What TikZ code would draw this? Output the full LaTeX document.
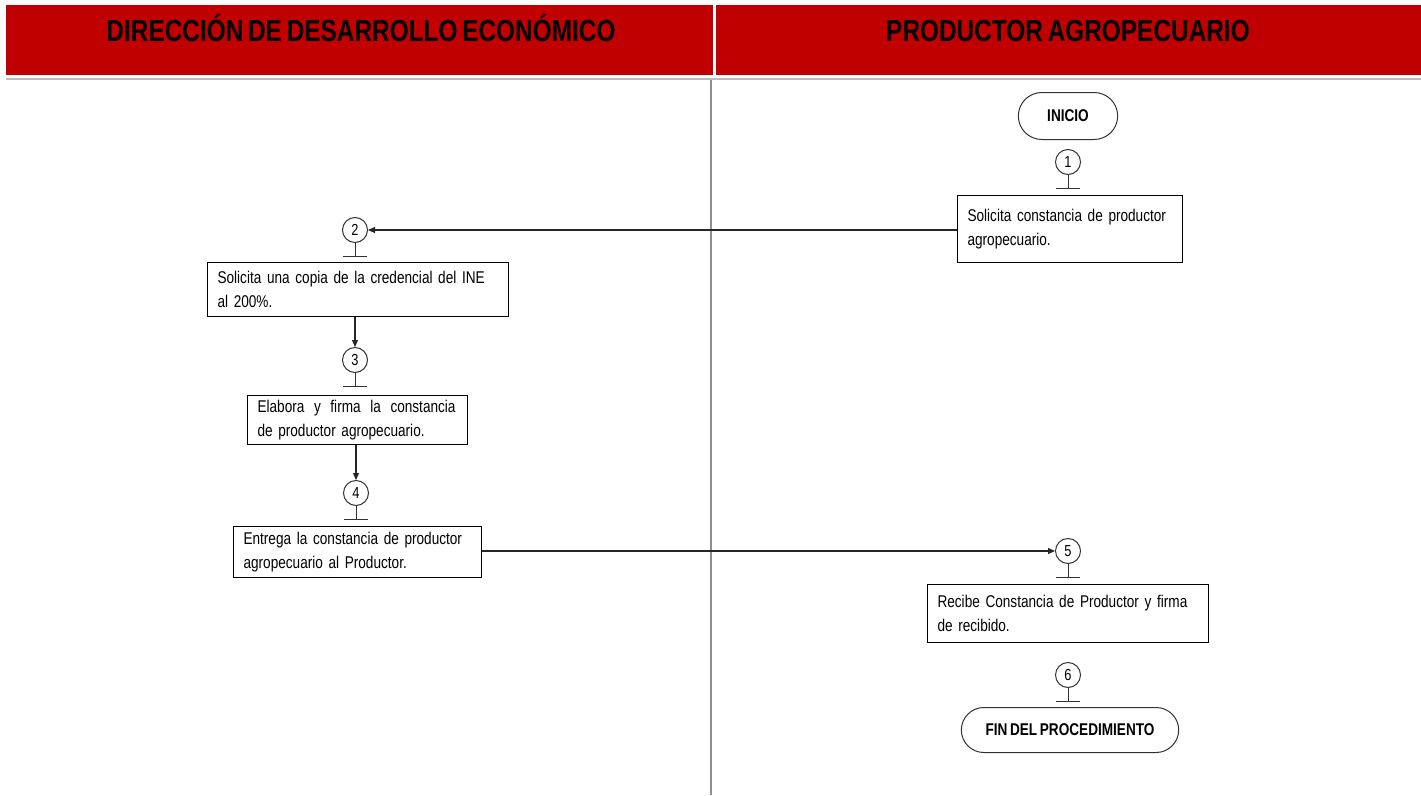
\documentclass[tikz,border=0pt]{standalone}
\usepackage{fontspec}
\setmainfont{Liberation Sans}
\newfontfamily\narrowfont[FakeStretch=0.8,WordSpace=0.7]{Liberation Sans}
\usetikzlibrary{arrows.meta,shapes.misc,calc}
\definecolor{headred}{HTML}{C00000}
\definecolor{rulegray}{HTML}{A0A0A0}
\begin{document}
\begin{tikzpicture}[x=1pt,y=-1pt,
  lanehead/.style={fill=headred,draw=none,minimum height=70pt,inner sep=0pt},
  lanetitle/.style={anchor=base,inner sep=0pt,
    font=\narrowfont\fontsize{30.5}{33}\selectfont\bfseries,text=black},
  stepbox/.style={draw=black,line width=1.1pt,align=left,inner xsep=10pt,inner ysep=0pt,
    font=\narrowfont\fontsize{17}{24}\selectfont,anchor=north west},
  terminal/.style={draw=black!80,line width=1pt,rounded rectangle,
    font=\narrowfont\fontsize{17}{20}\selectfont\bfseries},
  stepnum/.style={circle,draw=black!80,line width=1pt,minimum size=25pt,inner sep=0pt,
    font=\narrowfont\fontsize{16}{18}\selectfont},
  tbar/.style={draw=black!80,line width=1pt},
  flow/.style={draw=black!85,line width=1.1pt,-{Triangle[length=7pt,width=6pt]}}]
\useasboundingbox (0,0) rectangle (1421,795);
\fill[white] (0,0) rectangle (1421,795);

% swimlane headers
\node[lanehead,minimum width=707pt,anchor=north west] (hl) at (6,5) {};
\node[lanehead,minimum width=706pt,anchor=north west] (hr) at (716,5) {};
\node[lanetitle] (tl) at (361,41) {DIRECCIÓN DE DESARROLLO ECONÓMICO};
\node[lanetitle] (tr) at (1068,41) {PRODUCTOR AGROPECUARIO};
\draw[rulegray!70,line width=2pt] (6,79) -- (1421,79);
\draw[rulegray!90!black,line width=1.5pt] (711,80) -- (711,795);

% terminals
\node[terminal,minimum width=106pt,minimum height=47pt] (ini) at (1068,116) {INICIO};
\node[terminal,minimum width=224pt,minimum height=45pt] (fin) at (1070,730) {FIN DEL PROCEDIMIENTO};

% step numbers
\node[stepnum] (c1) at (1068,162) {1};
\node[stepnum] (c2) at (355,230) {2};
\node[stepnum] (c3) at (355,360) {3};
\node[stepnum] (c4) at (356,493) {4};
\node[stepnum] (c5) at (1068,551) {5};
\node[stepnum] (c6) at (1068,675) {6};

% activity boxes
\node[stepbox,minimum width=225pt,minimum height=67pt,text width=205pt] (b1) at (957,195)
  {Solicita constancia de productor\\agropecuario.};
\node[stepbox,minimum width=301pt,minimum height=54pt,text width=281pt] (b2) at (207,262)
  {Solicita una copia de la credencial del INE\\al 200\%.};
\node[stepbox,minimum width=220pt,minimum height=49pt,text width=200pt] (b3) at (247,395)
  {\makebox[198pt][l]{Elabora\hfill y\hfill firma\hfill la\hfill constancia}\\de productor agropecuario.};
\node[stepbox,minimum width=248pt,minimum height=51pt,text width=228pt] (b4) at (233,526)
  {Entrega la constancia de productor\\agropecuario al Productor.};
\node[stepbox,minimum width=281pt,minimum height=58pt,text width=261pt] (b5) at (927,584)
  {Recibe Constancia de Productor y firma\\de recibido.};

% T markers under each step number
\foreach \c in {c1,c2,c3,c4,c5,c6}{
  \draw[tbar] (\c.south) -- ++(0,13) coordinate (\c t);
  \draw[tbar] ($(\c t)+(-12,0)$) -- ($(\c t)+(12,0)$);
}

% flow connectors
\draw[flow] (b1.west |- c2) -- (c2.east);
\draw[flow] (b2.south -| c3) -- (c3.north);
\draw[flow] (b3.south -| c4) -- (c4.north);
\draw[flow] (b4.east |- c5) -- (c5.west);
\end{tikzpicture}
\end{document}
